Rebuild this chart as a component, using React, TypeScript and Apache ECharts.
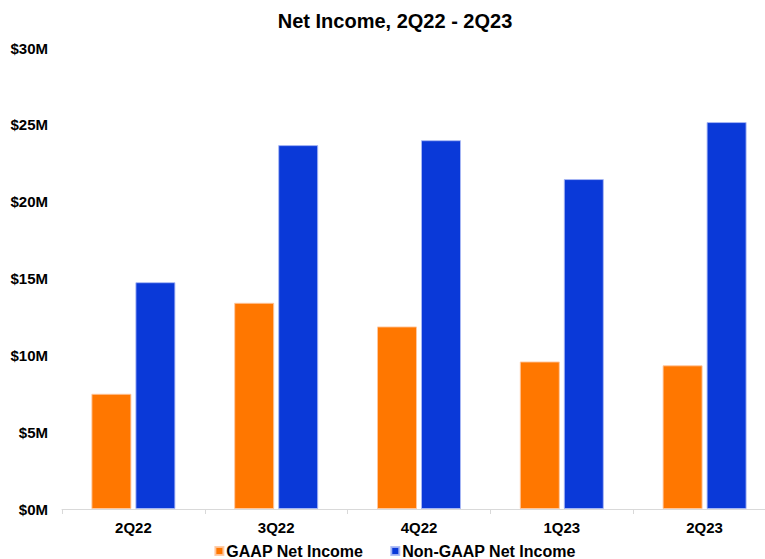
import React, { useEffect, useRef } from "react";
import * as echarts from "echarts";

const categories = ["2Q22", "3Q22", "4Q22", "1Q23", "2Q23"];
const gaapNetIncome = [7.5, 13.42, 11.88, 9.6, 9.35];
const nonGaapNetIncome = [14.76, 23.68, 24.0, 21.47, 25.18];
const seriesNames = ["GAAP Net Income", "Non-GAAP Net Income"];
const titleText = "Net Income, 2Q22 - 2Q23";

const FONT = "'Liberation Sans', Arial, sans-serif";

export default function App() {
  const ref = useRef<HTMLDivElement>(null);
  useEffect(() => {
    document.body.style.margin = "0";
    document.body.style.overflow = "hidden";
    document.documentElement.style.overflow = "hidden";
    if (!ref.current) return;
    const chart = echarts.init(ref.current, null, { renderer: "svg" });
    chart.setOption({
      animation: false,
      backgroundColor: "#ffffff",
      textStyle: { fontFamily: FONT },
      title: {
        text: titleText,
        left: "center",
        top: 6,
        textStyle: { fontFamily: FONT, fontSize: 20, fontWeight: "bold", color: "#000" },
      },
      legend: {
        data: seriesNames,
        bottom: -5,
        left: "center",
        icon: "rect",
        itemWidth: 8,
        itemHeight: 8,
        itemGap: 27,
        textStyle: { fontFamily: FONT, fontSize: 16, fontWeight: "bold", color: "#000", padding: [0, 0, 0, -2] },
      },
      grid: { left: 62, right: 14, top: 48, bottom: 50 },
      xAxis: {
        type: "category",
        data: categories,
        axisLine: { lineStyle: { color: "#d9d9d9", width: 1 } },
        axisTick: { show: true, length: 5, lineStyle: { color: "#d9d9d9" } },
        axisLabel: { fontFamily: FONT, fontSize: 15, fontWeight: "bold", color: "#000", margin: 11 },
      },
      yAxis: {
        type: "value",
        min: 0,
        max: 30,
        interval: 5,
        axisLine: { show: false },
        axisTick: { show: false },
        splitLine: { show: false },
        axisLabel: {
          fontFamily: FONT,
          fontSize: 15,
          fontWeight: "bold",
          color: "#000",
          margin: 14,
          formatter: (v: number) => "$" + v + "M",
        },
      },
      series: [
        {
          name: seriesNames[0],
          type: "bar",
          data: gaapNetIncome,
          barWidth: 40,
          barGap: "10%",
          itemStyle: { color: "#FF7700", borderColor: "rgba(255,200,160,0.9)", borderWidth: 1 },
        },
        {
          name: seriesNames[1],
          type: "bar",
          data: nonGaapNetIncome,
          barWidth: 40,
          itemStyle: { color: "#0A39D8", borderColor: "rgba(170,185,245,0.9)", borderWidth: 1 },
        },
      ],
    });
    return () => chart.dispose();
  }, []);
  return <div ref={ref} style={{ width: 790, height: 559 }} />;
}
